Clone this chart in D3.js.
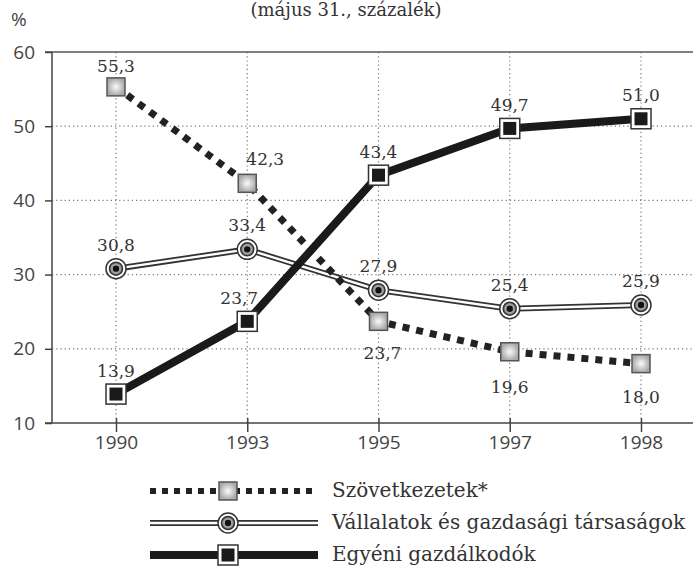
<!DOCTYPE html>
<html>
<head>
<meta charset="utf-8">
<script src="https://cdn.jsdelivr.net/npm/d3@7"></script>
<style>
  body { margin: 0; background: #fff; }
  svg { display: block; }
</style>
</head>
<body>
<div id="chart"></div>
<script>
var years = ["1990", "1993", "1995", "1997", "1998"];
var yTicks = [10, 20, 30, 40, 50, 60];
var szovetkezetek = [55.3, 42.3, 23.7, 19.6, 18.0];
var vallalatok = [30.8, 33.4, 27.9, 25.4, 25.9];
var egyeni = [13.9, 23.7, 43.4, 49.7, 51.0];
var seriesNames = ["Szövetkezetek*", "Vállalatok és gazdasági társaságok", "Egyéni gazdálkodók"];

var width = 693, height = 570;
var svg = d3.select("#chart").append("svg")
    .attr("width", width).attr("height", height);

var defs = svg.append("defs");
var grad = defs.append("radialGradient").attr("id", "sqGrad");
grad.append("stop").attr("offset", "0%").attr("stop-color", "#fbfbfb");
grad.append("stop").attr("offset", "100%").attr("stop-color", "#a8a8a8");
var grad2 = defs.append("radialGradient").attr("id", "ciGrad");
grad2.append("stop").attr("offset", "0%").attr("stop-color", "#eee");
grad2.append("stop").attr("offset", "100%").attr("stop-color", "#777");

var x = d3.scalePoint().domain(years).range([116, 641]);
var y = d3.scaleLinear().domain([10, 60]).range([423, 52]);
var left = 52, right = 693;

var sans = "'Open Sans', sans-serif";
var serif = "'DejaVu Serif', serif";

// title (second line only, first is cut off)
svg.append("text").attr("x", 346).attr("y", 16).attr("text-anchor", "middle")
    .style("font-family", serif).style("font-size", "18px").attr("fill", "#333")
    .text("(május 31., százalék)");
svg.append("text").attr("x", 11).attr("y", 26)
    .style("font-family", sans).style("font-size", "19px").attr("fill", "#444")
    .text("%");

// grid
var grid = svg.append("g");
grid.selectAll(".hg").data(yTicks.filter(function (d) { return d > 10 && d < 60; }))
    .enter().append("line")
    .attr("x1", left).attr("x2", right)
    .attr("y1", function (d) { return y(d); }).attr("y2", function (d) { return y(d); })
    .attr("stroke", "#777").attr("stroke-width", 1.2).attr("stroke-dasharray", "1.2,3");
grid.selectAll(".vg").data(years).enter().append("line")
    .attr("x1", function (d) { return x(d); }).attr("x2", function (d) { return x(d); })
    .attr("y1", y(60)).attr("y2", y(10))
    .attr("stroke", "#777").attr("stroke-width", 1.2).attr("stroke-dasharray", "1.2,3");
grid.append("line").attr("x1", 45).attr("x2", right)
    .attr("y1", y(60)).attr("y2", y(60)).attr("stroke", "#555").attr("stroke-width", 1.5);

// axes
var yAxis = svg.append("g").attr("transform", "translate(" + left + ",0)")
    .call(d3.axisLeft(y).tickValues(yTicks).tickSize(7).tickPadding(10));
var xAxis = svg.append("g").attr("transform", "translate(0," + y(10) + ")")
    .call(d3.axisBottom(x).tickSize(9).tickPadding(4));
[yAxis, xAxis].forEach(function (a) {
    a.attr("font-family", null).attr("font-size", null);
    a.select(".domain").remove();
    a.selectAll("line").attr("stroke", "#444").attr("stroke-width", 1.5);
    a.selectAll("text").style("font-family", sans).style("font-size", "19px").attr("fill", "#444");
});
xAxis.selectAll(".tick line").attr("y1", -5);
svg.append("line").attr("x1", left).attr("x2", left).attr("y1", y(60)).attr("y2", y(10))
    .attr("stroke", "#444").attr("stroke-width", 1.5);
svg.append("line").attr("x1", 45).attr("x2", right).attr("y1", y(10)).attr("y2", y(10))
    .attr("stroke", "#444").attr("stroke-width", 1.5);

var line = d3.line().x(function (d, i) { return x(years[i]); }).y(function (d) { return y(d); });

// series lines
function doubleLine(g, path) {
    g.append("path").attr("d", path).attr("fill", "none").attr("stroke", "#333").attr("stroke-width", 6);
    g.append("path").attr("d", path).attr("fill", "none").attr("stroke", "#fff").attr("stroke-width", 2.4);
}
function dottedLine(g, path, w) {
    w = w || 7;
    g.append("path").attr("d", path).attr("fill", "none").attr("stroke", "#222")
        .attr("stroke-width", w).attr("stroke-dasharray", w + "," + w);
}
function thickLine(g, path) {
    g.append("path").attr("d", path).attr("fill", "none").attr("stroke", "#1a1a1a").attr("stroke-width", 8);
}
function sqMarker(g, cx, cy) {
    g.append("rect").attr("x", cx - 9).attr("y", cy - 9).attr("width", 18).attr("height", 18)
        .attr("fill", "url(#sqGrad)").attr("stroke", "#555").attr("stroke-width", 1.5);
}
function circMarker(g, cx, cy) {
    g.append("circle").attr("cx", cx).attr("cy", cy).attr("r", 10)
        .attr("fill", "#fff").attr("stroke", "#333").attr("stroke-width", 1.5);
    g.append("circle").attr("cx", cx).attr("cy", cy).attr("r", 6.5)
        .attr("fill", "url(#ciGrad)").attr("stroke", "#333").attr("stroke-width", 1.5);
    g.append("circle").attr("cx", cx).attr("cy", cy).attr("r", 3.2).attr("fill", "#111");
}
function blackMarker(g, cx, cy) {
    g.append("rect").attr("x", cx - 10).attr("y", cy - 10).attr("width", 20).attr("height", 20)
        .attr("fill", "#fff").attr("stroke", "#333").attr("stroke-width", 1.5);
    g.append("rect").attr("x", cx - 6.5).attr("y", cy - 6.5).attr("width", 13).attr("height", 13)
        .attr("fill", "#1a1a1a");
}

var plot = svg.append("g");
doubleLine(plot, line(vallalatok));
dottedLine(plot, line(szovetkezetek));
thickLine(plot, line(egyeni));

vallalatok.forEach(function (v, i) { circMarker(plot, x(years[i]), y(v)); });
szovetkezetek.forEach(function (v, i) { sqMarker(plot, x(years[i]), y(v)); });
egyeni.forEach(function (v, i) { blackMarker(plot, x(years[i]), y(v)); });

// value labels
var fmt = function (v) { return d3.format(".1f")(v).replace(".", ","); };
var szovOff = [[0, -15], [18, -18], [4, 38], [0, 41], [0, 39]];
var valOff = [[0, -18], [0, -18], [0, -18], [0, -18], [0, -18]];
var egyOff = [[0, -17], [-8, -17], [0, -17], [0, -17], [0, -18]];
function labels(data, off) {
    plot.selectAll(null).data(data).enter().append("text")
        .attr("x", function (d, i) { return x(years[i]) + off[i][0]; })
        .attr("y", function (d, i) { return y(d) + off[i][1]; })
        .attr("text-anchor", "middle")
        .style("font-family", serif).style("font-size", "17px").attr("fill", "#333")
        .text(fmt);
}
labels(szovetkezetek, szovOff);
labels(vallalatok, valOff);
labels(egyeni, egyOff);

// legend
var legX0 = 150, legX1 = 318, legM = 228, legText = 332;
var legY = [491, 523, 555];
var styles = [
    [function (g, p) { dottedLine(g, p, 6); }, sqMarker],
    [doubleLine, circMarker],
    [thickLine, blackMarker]
];
var leg = svg.append("g");
seriesNames.forEach(function (name, i) {
    var p = "M" + legX0 + "," + legY[i] + "H" + legX1;
    styles[i][0](leg, p);
    styles[i][1](leg, legM, legY[i]);
    leg.append("text").attr("x", legText).attr("y", legY[i] + 6)
        .style("font-family", serif).style("font-size", "20px").attr("fill", "#333")
        .text(name);
});
</script>
</body>
</html>
